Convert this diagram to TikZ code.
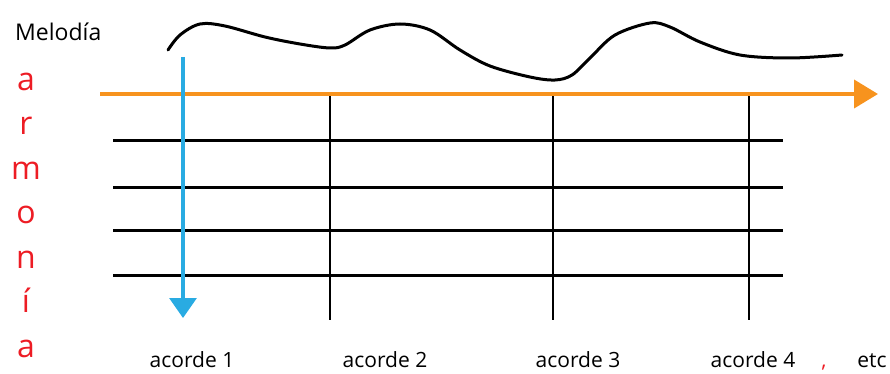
\documentclass[tikz,border=0pt]{standalone}
\usepackage{fontspec}
\setmainfont{Open Sans}
\usetikzlibrary{arrows.meta, positioning}
\definecolor{melorange}{HTML}{F7931E}
\definecolor{harmblue}{HTML}{29ABE2}
\definecolor{harmred}{HTML}{ED1C24}

\begin{document}
\begin{tikzpicture}[x=1pt, y=1pt,
  staff/.style={line width=3pt, black},
  chordbar/.style={line width=2.8pt, black},
  melody/.style={line width=3pt, black, line cap=round},
  timearr/.style={-{Triangle[length=24pt, width=28pt]}, line width=4pt, melorange},
  harmarr/.style={-{Triangle[length=20pt, width=27pt]}, line width=3.2pt, harmblue},
  chordlbl/.style={anchor=base, font=\fontsize{21}{25}\selectfont, inner sep=0pt},
  vletter/.style={anchor=base, text=harmred, font=\fontsize{32}{36}\selectfont, inner sep=0pt},
]
  \useasboundingbox (0,0) rectangle (890,373);

  % melody line
  \node[anchor=base west, inner sep=0pt, font=\fontsize{23}{27}\selectfont] (melodia) at (15,332) {Melodía};
  \draw[melody] plot[smooth, tension=0.55] coordinates {
    (168,323) (180,338) (200,349) (225,347) (265,336) (300,329) (330,325)
    (345,328) (370,343) (400,349) (430,343) (460,323) (490,307) (530,296)
    (555,293) (572,298) (590,315) (615,338) (650,350) (670,346) (700,331)
    (740,318) (790,315) (842,318)};

  % staff lines and chord bars
  \foreach \y in {233,186,143,98}
    \draw[staff] (113,\y) -- (783,\y);
  \foreach \x [count=\i] in {330,553,749} {
    \coordinate (top\i) at (\x,279);
    \coordinate (bot\i) at (\x,53);
    \draw[chordbar] (top\i) -- (bot\i);
  }

  % time axis
  \coordinate (tstart) at (100,279);
  \coordinate (tend) at (878,279);
  \draw[timearr] (tstart) -- (tend);

  % harmony arrow
  \coordinate (hstart) at (183,316);
  \coordinate (hend) at (183,55);
  \draw[harmarr] (hstart) -- (hend);

  % vertical word
  \foreach \l [count=\i from 0] in {a,r,m,o,n,í,a}
    \node[vletter] (h\i) at (26,283-44.5*\i) {\l};

  % chord labels
  \node[chordlbl] (ac1) at (192,6) {acorde 1};
  \node[chordlbl] (ac2) at (385,6) {acorde 2};
  \node[chordlbl] (ac3) at (578,6) {acorde 3};
  \node[chordlbl] (ac4) at (753,6) {acorde 4};
  \node[chordlbl, text=harmred] (sep) at (824,6) {,};
  \node[chordlbl] (etc) at (872,6) {etc};
\end{tikzpicture}
\end{document}
